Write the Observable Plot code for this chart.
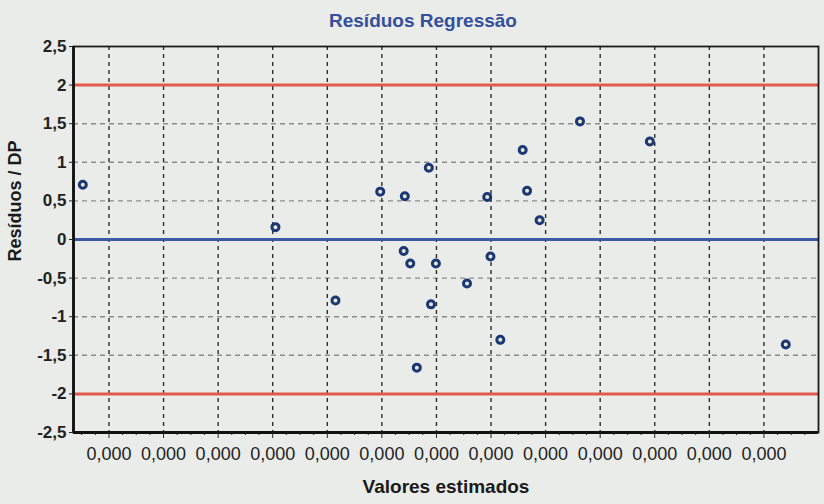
<!DOCTYPE html>
<html>
<head>
<meta charset="utf-8">
<script src="https://cdn.jsdelivr.net/npm/d3@7"></script>
<script src="https://cdn.jsdelivr.net/npm/@observablehq/plot@0.6"></script>
<style>
  html, body { margin: 0; padding: 0; background: #eaecea; }
  #wrap { width: 824px; height: 504px; overflow: hidden; font-family: "Liberation Sans", Arial, sans-serif; }
  #title { height: 36px; box-sizing: border-box; padding-top: 10px; padding-left: 22px; text-align: center;
           font-weight: bold; font-size: 19px; line-height: 22px; color: #34509c; }
</style>
</head>
<body>
<div id="wrap">
  <div id="title">Resíduos Regressão</div>
  <div id="chart"></div>
</div>
<script>
// Estimated values (x in "Valores estimados" units, displayed with 3 decimals)
const estimated = [9.52e-5, 13.05e-5, 14.15e-5, 14.97e-5, 15.42e-5, 15.40e-5, 15.52e-5,
                   15.86e-5, 15.99e-5, 15.90e-5, 15.64e-5, 16.56e-5, 16.93e-5, 16.99e-5,
                   17.17e-5, 17.58e-5, 17.66e-5, 17.89e-5, 18.63e-5, 19.91e-5, 22.40e-5];
// Standardized residuals (Resíduos / DP)
const residuals = [0.71, 0.16, -0.79, 0.62, 0.56, -0.15, -0.31,
                   0.93, -0.31, -0.84, -1.66, -0.57, 0.55, -0.22,
                   -1.30, 1.16, 0.63, 0.25, 1.53, 1.27, -1.36];

const xTicks = [10e-5, 11e-5, 12e-5, 13e-5, 14e-5, 15e-5, 16e-5, 17e-5, 18e-5, 19e-5, 20e-5, 21e-5, 22e-5];
const xTickLabels = ["0,000", "0,000", "0,000", "0,000", "0,000", "0,000", "0,000",
                     "0,000", "0,000", "0,000", "0,000", "0,000", "0,000"];
const xDomain = [9.35e-5, 23.0e-5];
const yTicks = [-2.5, -2, -1.5, -1, -0.5, 0, 0.5, 1, 1.5, 2, 2.5];
const yTickLabels = ["-2,5", "-2", "-1,5", "-1", "-0,5", "0", "0,5", "1", "1,5", "2", "2,5"];
const yGrid = [-1.5, -1, -0.5, 0.5, 1, 1.5];
const limits = [-2, 2];
const zeroLine = [0];

const points = estimated.map((x, i) => ({x, y: residuals[i]}));
const minorTicks = d3.range(9.5e-5, 23.0e-5, 0.25e-5)
  .filter(t => xTicks.every(m => Math.abs(m - t) > 1e-8));

const chart = Plot.plot({
  width: 824,
  height: 468,
  marginLeft: 73,
  marginRight: 6,
  marginTop: 10,
  marginBottom: 72,
  style: {background: "transparent", fontFamily: "'Liberation Sans', Arial, sans-serif", color: "#222"},
  x: {domain: xDomain},
  y: {domain: [-2.5, 2.5]},
  marks: [
    Plot.ruleY(yGrid, {stroke: "#8c8c8c", strokeWidth: 1.4, strokeDasharray: "5,4"}),
    Plot.ruleX(xTicks, {stroke: "#2e2e2e", strokeWidth: 1.4, strokeDasharray: "4,4"}),
    Plot.ruleY(limits, {stroke: "#e2594d", strokeWidth: 3}),
    Plot.ruleY(zeroLine, {stroke: "#3b5aa6", strokeWidth: 3}),
    Plot.frame({stroke: "#1a1a1a", strokeWidth: 1.8}),
    Plot.ruleX([xDomain[0]], {stroke: "#111", strokeWidth: 2.8}),
    Plot.ruleY([-2.5], {stroke: "#111", strokeWidth: 2.8}),
    Plot.axisY({ticks: yTicks, tickFormat: d => yTickLabels[yTicks.indexOf(d)], tickSize: 4, tickPadding: 3,
                fontSize: 17, fontWeight: "bold", label: null}),
    Plot.axisX({ticks: xTicks, tickFormat: d => xTickLabels[xTicks.indexOf(d)], tickSize: 6, tickPadding: 9,
                fontSize: 18, label: null}),
    Plot.axisX({ticks: minorTicks, tickFormat: () => "", tickSize: 3, label: null}),
    Plot.text(["Valores estimados"], {frameAnchor: "bottom", dy: 60, fontSize: 19, fontWeight: "bold", fill: "#1a1a1a"}),
    Plot.text(["Resíduos / DP"], {frameAnchor: "left", rotate: -90, dx: -58, dy: 22, fontSize: 18, fontWeight: "bold", fill: "#1a1a1a"}),
    Plot.dot(points, {x: "x", y: "y", r: 3.5, stroke: "#1c3775", strokeWidth: 3, fill: "#e6ebd2"})
  ]
});
document.getElementById("chart").appendChild(chart);
</script>
</body>
</html>
